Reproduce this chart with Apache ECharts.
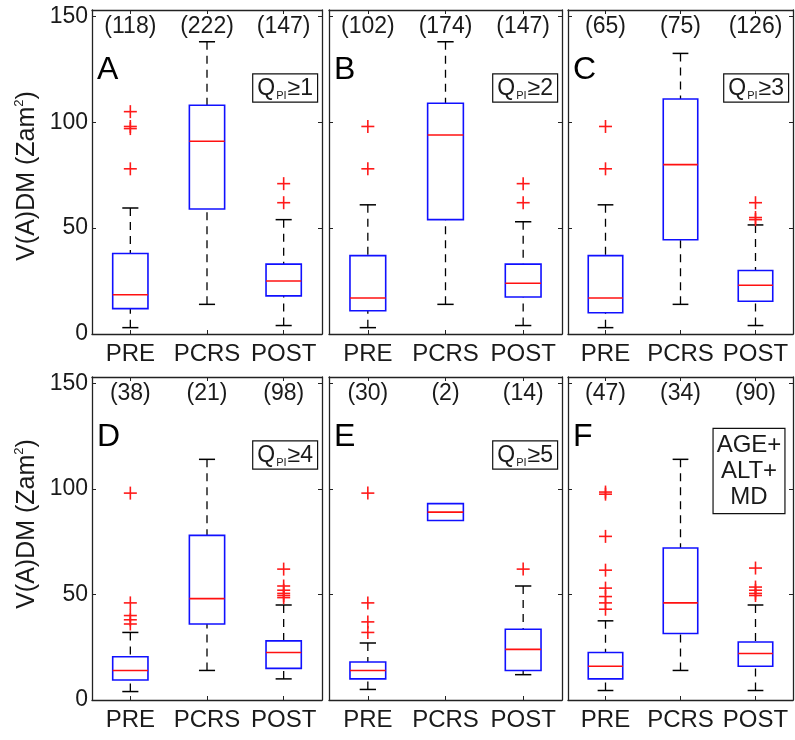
<!DOCTYPE html>
<html><head><meta charset="utf-8">
<script src="https://cdn.jsdelivr.net/npm/echarts@6/dist/echarts.min.js"></script>
<style>html,body{margin:0;padding:0;background:#fff}#c{width:795px;height:740px}</style>
</head><body><div id="c"></div>
<script>
// ---------- DATA ----------
const categories = ['PRE', 'PCRS', 'POST'];
const yTicks = [0, 50, 100, 150];
const panelLetters = ['A', 'B', 'C', 'D', 'E', 'F'];
const filterLabels = ['≥1', '≥2', '≥3', '≥4', '≥5', 'AGE+\nALT+\nMD'];

// each box: [min, q1, median, q3, max]
const statsA = [[3, 12, 18.5, 38, 59.5], [14, 59, 91, 108, 138], [4, 18, 25, 33, 54]];
const outliersA = [[78, 97, 98, 105], [], [62, 71]];
const countsA = [118, 222, 147];

const statsB = [[3, 11, 17, 37, 61], [14, 54, 94, 109, 138], [4, 17.5, 24, 33, 53]];
const outliersB = [[78, 98], [], [62, 71]];
const countsB = [102, 174, 147];

const statsC = [[3, 10, 17, 37, 61], [14, 44.5, 80, 111, 132.5], [4, 15.5, 23, 30, 51.5]];
const outliersC = [[78, 98], [], [54, 55, 62]];
const countsC = [65, 75, 126];

const statsD = [[4, 9.5, 14, 20.5, 32], [14, 36, 48, 78, 114], [10, 15, 22.5, 28, 45]];
const outliersD = [[36, 38, 40, 46, 98], [], [48.5, 49.5, 50.5, 52, 54, 62]];
const countsD = [38, 21, 98];

const statsE = [[5, 10, 14, 18, 27], [85, 85, 89, 93, 93], [12, 14, 24, 33.5, 54]];
const outliersE = [[32, 37, 46, 98], [], [62]];
const countsE = [30, 2, 14];

const statsF = [[4.5, 10, 16, 22.5, 37.5], [14, 31.5, 46, 72, 114], [4.5, 16, 22, 27.5, 45]];
const outliersF = [[43, 46, 49, 53, 61.5, 77.5, 97.5, 98.5], [], [49.5, 50.5, 52, 53.5, 62.5]];
const countsF = [47, 34, 90];

// ---------- LAYOUT ----------
const FONT = "'Liberation Sans', Arial, Helvetica, sans-serif";
const COLS = [{ left: 92, width: 230 }, { left: 329, width: 233 }, { left: 568, width: 225 }];
const ROWS = [{ top: 10, height: 324 }, { top: 377, height: 323 }];
const YMAX = 153;
const panels = [
  [statsA, outliersA, countsA], [statsB, outliersB, countsB], [statsC, outliersC, countsC],
  [statsD, outliersD, countsD], [statsE, outliersE, countsE], [statsF, outliersF, countsF]
];
const AX = '#222';
const TXT = '#1a1a1a';

function renderBox(params, api) {
  const c = api.value(0);
  const vMin = api.value(1), q1 = api.value(2), med = api.value(3), q3 = api.value(4), vMax = api.value(5);
  const band = api.size([1, 0])[0];
  const hw = band * 0.23, cw = band * 0.105;
  const cx = api.coord([c, med])[0];
  const y = v => api.coord([c, v])[1];
  const ch = [];
  const wl = () => ({ stroke: '#000', lineWidth: 1.3, lineDash: [8, 6], fill: null });
  const cl = () => ({ stroke: '#000', lineWidth: 1.5, fill: null });
  if (vMax > q3) {
    ch.push({ type: 'line', shape: { x1: cx, y1: y(vMax), x2: cx, y2: y(q3) }, style: wl() });
    ch.push({ type: 'line', shape: { x1: cx - cw, y1: y(vMax), x2: cx + cw, y2: y(vMax) }, style: cl() });
  }
  if (vMin < q1) {
    ch.push({ type: 'line', shape: { x1: cx, y1: y(vMin), x2: cx, y2: y(q1) }, style: wl() });
    ch.push({ type: 'line', shape: { x1: cx - cw, y1: y(vMin), x2: cx + cw, y2: y(vMin) }, style: cl() });
  }
  ch.push({ type: 'rect', shape: { x: cx - hw, y: y(q3), width: 2 * hw, height: y(q1) - y(q3) },
    style: { fill: null, stroke: '#1010ff', lineWidth: 1.6 } });
  ch.push({ type: 'line', shape: { x1: cx - hw, y1: y(med), x2: cx + hw, y2: y(med) },
    style: { stroke: '#ff1010', lineWidth: 1.6 } });
  return { type: 'group', children: ch };
}

function renderOutlier(params, api) {
  const p = api.coord([api.value(0), api.value(1)]);
  const s = 6.5;
  const st = () => ({ stroke: '#ff1a1a', lineWidth: 1.6 });
  return { type: 'group', children: [
    { type: 'line', shape: { x1: p[0] - s, y1: p[1], x2: p[0] + s, y2: p[1] }, style: st() },
    { type: 'line', shape: { x1: p[0], y1: p[1] - s, x2: p[0], y2: p[1] + s }, style: st() }
  ] };
}

function renderCount(params, api) {
  const p = api.coord([api.value(0), 145]);
  return { type: 'text', x: p[0], y: p[1],
    style: { text: '(' + api.value(1) + ')', align: 'center', verticalAlign: 'middle',
      fontSize: 23, fontFamily: FONT, fill: TXT } };
}

const grid = [], xAxis = [], yAxis = [], series = [], graphic = [];
panels.forEach((pn, i) => {
  const row = Math.floor(i / 3), col = i % 3;
  const G = { left: COLS[col].left, top: ROWS[row].top, width: COLS[col].width, height: ROWS[row].height };
  grid.push(Object.assign({ show: false }, G));
  const tick = { show: true, inside: true, alignWithLabel: true, length: 4, lineStyle: { color: AX, width: 1 } };
  xAxis.push({ gridIndex: i, type: 'category', data: categories, position: 'bottom', boundaryGap: true,
    axisLine: { show: true, onZero: false, lineStyle: { color: AX, width: 1.3 } }, axisTick: tick,
    axisLabel: { interval: 0, fontSize: 24, fontFamily: FONT, color: TXT, margin: 8 },
    splitLine: { show: false } });
  xAxis.push({ gridIndex: i, type: 'category', data: categories, position: 'top', boundaryGap: true,
    axisLine: { show: true, onZero: false, lineStyle: { color: AX, width: 1.3 } }, axisTick: tick,
    axisLabel: { show: false }, splitLine: { show: false } });
  const yt = { show: true, inside: true, length: 4, customValues: yTicks, lineStyle: { color: AX, width: 1 } };
  yAxis.push({ gridIndex: i, type: 'value', min: 0, max: YMAX, interval: 50, position: 'left',
    axisLine: { show: true, onZero: false, lineStyle: { color: AX, width: 1.3 } }, axisTick: yt,
    axisLabel: { show: col === 0, customValues: yTicks, fontSize: 23, fontFamily: FONT, color: TXT, margin: 4,
      formatter: v => (yTicks.indexOf(v) >= 0 ? String(v) : '') },
    splitLine: { show: false } });
  yAxis.push({ gridIndex: i, type: 'value', min: 0, max: YMAX, interval: 50, position: 'right',
    axisLine: { show: true, onZero: false, lineStyle: { color: AX, width: 1.3 } }, axisTick: yt,
    axisLabel: { show: false }, splitLine: { show: false } });

  const [stats, outs, counts] = pn;
  series.push({ type: 'custom', xAxisIndex: 2 * i, yAxisIndex: 2 * i, renderItem: renderBox,
    encode: { x: 0, y: [1, 2, 3, 4, 5] }, data: stats.map((s, k) => [k].concat(s)), silent: true, clip: false });
  const od = [];
  outs.forEach((arr, k) => arr.forEach(v => od.push([k, v])));
  series.push({ type: 'custom', xAxisIndex: 2 * i, yAxisIndex: 2 * i, renderItem: renderOutlier,
    encode: { x: 0, y: 1 }, data: od, silent: true, clip: false });
  series.push({ type: 'custom', xAxisIndex: 2 * i, yAxisIndex: 2 * i, renderItem: renderCount,
    encode: { x: 0 }, data: counts.map((n, k) => [k, n]), silent: true, clip: false });

  // panel letter
  graphic.push({ type: 'text', x: G.left + 5, y: G.top + 60,
    style: { text: panelLetters[i], fontSize: 32, fontFamily: FONT, fill: '#000', align: 'left', verticalAlign: 'middle' } });
  // filter box
  if (i < 5) {
    graphic.push({ type: 'text', x: G.left + G.width - 5, y: G.top + 78,
      style: { text: '{q|Q}{s|PI}{q|' + filterLabels[i] + '}', align: 'right', verticalAlign: 'middle',
        rich: { q: { fontSize: 23, fontFamily: FONT, fill: TXT, lineHeight: 26 },
                s: { fontSize: 11, fontFamily: FONT, fill: TXT, verticalAlign: 'bottom', lineHeight: 26, padding: [0, 1, 0, 1] } },
        backgroundColor: '#fff', borderColor: '#111', borderWidth: 1.2, padding: [1, 4, 0, 4] } });
  } else {
    graphic.push({ type: 'text', x: G.left + G.width - 44, y: G.top + 94,
      style: { text: filterLabels[i], align: 'center', verticalAlign: 'middle', fontSize: 24, lineHeight: 26,
        fontFamily: FONT, fill: TXT, backgroundColor: '#fff', borderColor: '#111', borderWidth: 1.2, padding: [3, 3, 3, 3] } });
  }
});

// y-axis titles
[176, 524].forEach(yc => {
  graphic.push({ type: 'text', x: 27, y: yc, rotation: Math.PI / 2,
    style: { text: '{a|V(A)DM (Zam}{b|2}{a|)}', align: 'center', verticalAlign: 'middle',
      rich: { a: { fontSize: 25, fontFamily: FONT, fill: TXT, lineHeight: 29 },
              b: { fontSize: 13, fontFamily: FONT, fill: TXT, verticalAlign: 'top', lineHeight: 29 } } } });
});

const chart = echarts.init(document.getElementById('c'), null, { renderer: 'canvas' });
chart.setOption({ animation: false, backgroundColor: '#fff', grid, xAxis, yAxis, series, graphic });
</script></body></html>
